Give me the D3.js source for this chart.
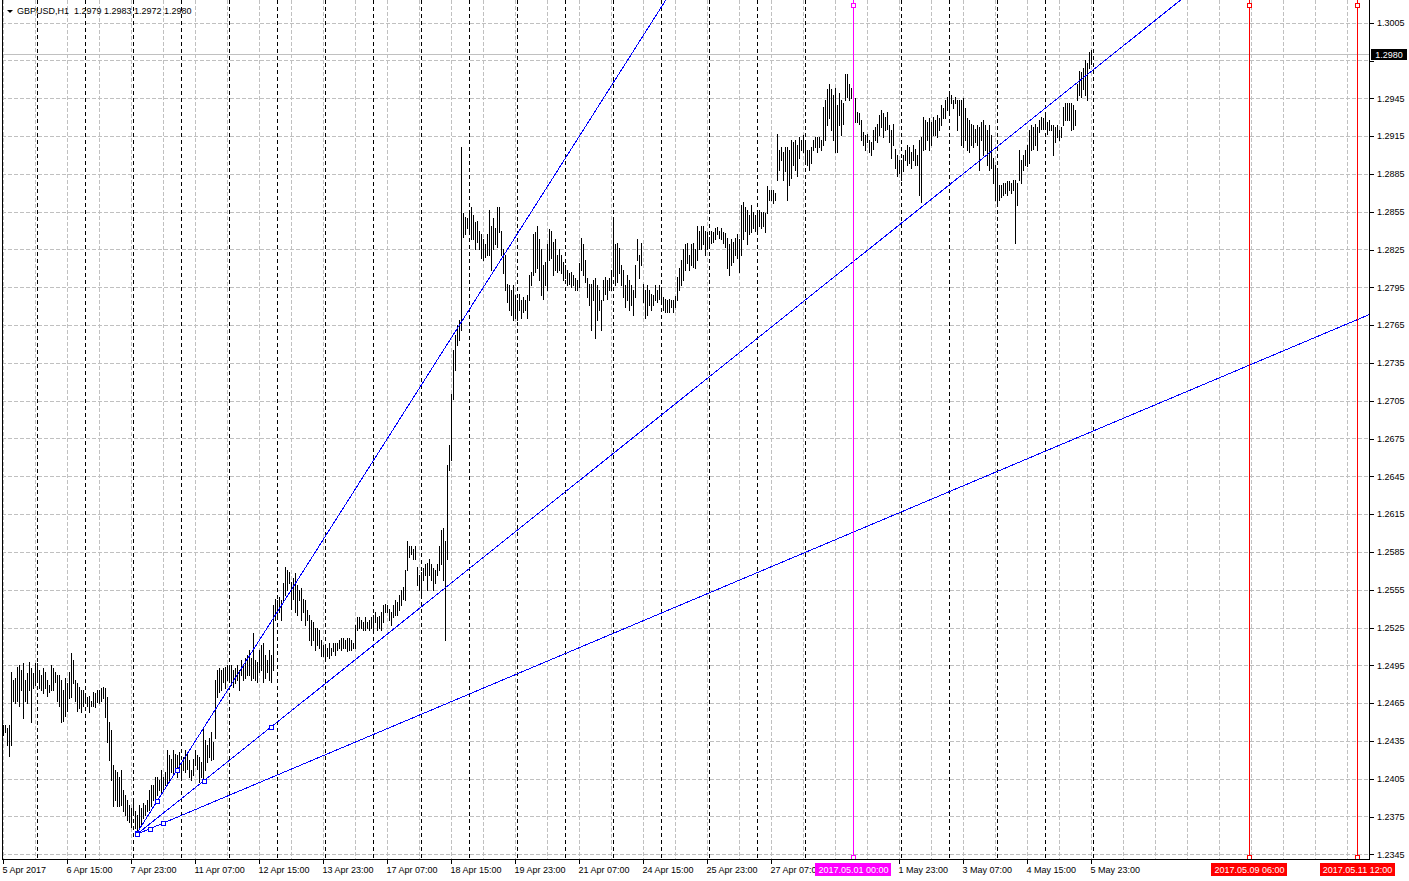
<!DOCTYPE html>
<html>
<head>
<meta charset="utf-8">
<script src="https://cdn.jsdelivr.net/npm/d3@7"></script>
<style>
html, body { margin: 0; padding: 0; background: #fff; }
svg { display: block; font-family: "Liberation Sans", Arial, sans-serif; }
</style>
</head>
<body>
<svg id="chart" width="1409" height="881"></svg>
<script>
/* global d3 */

// GBPUSD H1, one bar per hour from 5 Apr 07:00 to 5 May 23:00 (545 bars)
var symbol = "GBPUSD,H1";
var lastOHLC = [1.2979, 1.2983, 1.2972, 1.2980];

// bar highs / lows, split in four stretches
var highsA = [
  1.2448,1.2448,1.2445,1.2448,1.2490,1.2483,1.2485,1.2494,1.2495,1.2491,
  1.2497,1.2483,1.2489,1.2498,1.2493,1.2489,1.2497,1.2497,1.2491,1.2487,
  1.2493,1.2490,1.2483,1.2479,1.2495,1.2493,1.2490,1.2487,1.2487,1.2483,
  1.2475,1.2485,1.2481,1.2490,1.2505,1.2499,1.2483,1.2481,1.2478,1.2475,
  1.2475,1.2471,1.2470,1.2471,1.2467,1.2474,1.2473,1.2475,1.2475,1.2477,
  1.2478,1.2477,1.2470,1.2450,1.2444,1.2416,1.2412,1.2410,1.2406,1.2412,
  1.2396,1.2392,1.2388,1.2384,1.2382,1.2388,1.2379,1.2376,1.2384,1.2382,
  1.2386,1.2384,1.2388,1.2396,1.2400,1.2400,1.2406,1.2406,1.2404,1.2412,
  1.2406,1.2410,1.2428,1.2424,1.2421,1.2428,1.2425,1.2424,1.2426,1.2418,
  1.2422,1.2428,1.2426,1.2420,1.2412,1.2421,1.2428,1.2424,1.2422,1.2418,
  1.2445,1.2436,1.2432,1.2437,1.2442,1.2434,1.2483,1.2491,1.2493,1.2491,
  1.2493,1.2494,1.2495,1.2493,1.2495,1.2491,1.2493,1.2495,1.2491
];
var lowsA = [
  1.2440,1.2442,1.2432,1.2423,1.2432,1.2467,1.2465,1.2467,1.2463,1.2475,
  1.2453,1.2467,1.2465,1.2475,1.2450,1.2477,1.2479,1.2483,1.2477,1.2475,
  1.2473,1.2477,1.2471,1.2474,1.2475,1.2475,1.2482,1.2467,1.2463,1.2450,
  1.2451,1.2455,1.2459,1.2469,1.2470,1.2481,1.2467,1.2459,1.2461,1.2458,
  1.2463,1.2465,1.2463,1.2458,1.2463,1.2463,1.2462,1.2466,1.2465,1.2467,
  1.2469,1.2454,1.2434,1.2420,1.2404,1.2383,1.2388,1.2383,1.2383,1.2384,
  1.2379,1.2376,1.2372,1.2371,1.2367,1.2376,1.2366,1.2363,1.2366,1.2368,
  1.2374,1.2376,1.2379,1.2380,1.2383,1.2388,1.2388,1.2392,1.2396,1.2394,
  1.2396,1.2400,1.2400,1.2404,1.2410,1.2408,1.2412,1.2406,1.2410,1.2404,
  1.2412,1.2410,1.2413,1.2406,1.2404,1.2408,1.2416,1.2413,1.2402,1.2406,
  1.2402,1.2412,1.2418,1.2422,1.2420,1.2421,1.2437,1.2470,1.2474,1.2475,
  1.2482,1.2477,1.2483,1.2485,1.2479,1.2478,1.2481,1.2483,1.2475
];
var highsB = [
  1.2499,1.2495,1.2501,1.2503,1.2507,1.2501,1.2521,1.2499,1.2498,1.2507,
  1.2511,1.2513,1.2503,1.2499,1.2507,1.2503,1.2543,1.2548,1.2547,1.2549,
  1.2547,1.2560,1.2573,1.2571,1.2569,1.2561,1.2564,1.2568,1.2559,1.2555,
  1.2556,1.2548,1.2547,1.2539,1.2535,1.2531,1.2529,1.2525,1.2525,1.2523,
  1.2515,1.2511,1.2511,1.2509,1.2513,1.2509,1.2513,1.2513,1.2513,1.2515,
  1.2517,1.2517,1.2515,1.2517,1.2517,1.2515,1.2513,1.2527,1.2533,1.2533,
  1.2531,1.2529,1.2533,1.2529,1.2531,1.2533,1.2535,1.2537,1.2533,1.2534,
  1.2537,1.2543,1.2544,1.2543,1.2540,1.2537,1.2543,1.2547,1.2545,1.2551,
  1.2555,1.2557,1.2571,1.2594,1.2590,1.2590,1.2587,1.2590,1.2573,1.2567,
  1.2569,1.2572,1.2575,1.2576,1.2579,1.2575,1.2572,1.2571,1.2575,1.2590,
  1.2602,1.2604,1.2594,1.2654,1.2670,1.2710,1.2745,1.2757,1.2765,1.2769,1.2906
];
var lowsB = [
  1.2487,1.2483,1.2485,1.2487,1.2487,1.2483,1.2485,1.2483,1.2482,1.2490,
  1.2491,1.2482,1.2485,1.2490,1.2483,1.2482,1.2491,1.2531,1.2535,1.2537,
  1.2531,1.2547,1.2551,1.2555,1.2560,1.2540,1.2548,1.2537,1.2535,1.2547,
  1.2531,1.2537,1.2527,1.2531,1.2515,1.2511,1.2515,1.2507,1.2511,1.2509,
  1.2502,1.2502,1.2501,1.2502,1.2501,1.2503,1.2506,1.2503,1.2507,1.2509,
  1.2507,1.2509,1.2509,1.2506,1.2507,1.2507,1.2509,1.2509,1.2523,1.2525,
  1.2525,1.2523,1.2523,1.2525,1.2523,1.2525,1.2521,1.2529,1.2523,1.2525,
  1.2523,1.2529,1.2537,1.2537,1.2531,1.2527,1.2533,1.2535,1.2535,1.2539,
  1.2543,1.2548,1.2547,1.2571,1.2581,1.2583,1.2579,1.2579,1.2559,1.2555,
  1.2551,1.2563,1.2567,1.2555,1.2567,1.2563,1.2555,1.2560,1.2567,1.2571,
  1.2575,1.2563,1.2515,1.2579,1.2650,1.2658,1.2706,1.2729,1.2749,1.2753,1.2761
];
var highsC = [
  1.2854,1.2851,1.2850,1.2856,1.2859,1.2852,1.2847,1.2848,1.2840,1.2837,
  1.2833,1.2829,1.2837,1.2856,1.2844,1.2850,1.2842,1.2859,1.2859,1.2840,
  1.2825,1.2821,1.2798,1.2797,1.2793,1.2797,1.2789,1.2785,1.2790,1.2785,
  1.2787,1.2785,1.2789,1.2805,1.2807,1.2837,1.2839,1.2844,1.2833,1.2825,
  1.2813,1.2815,1.2829,1.2841,1.2840,1.2831,1.2833,1.2821,1.2825,1.2821,
  1.2815,1.2813,1.2809,1.2806,1.2807,1.2805,1.2802,1.2801,1.2814,1.2834,
  1.2829,1.2817,1.2802,1.2798,1.2798,1.2801,1.2802,1.2797,1.2793,1.2785,
  1.2801,1.2803,1.2801,1.2802,1.2809,1.2850,1.2829,1.2830,1.2826
];
var lowsC = [
  1.2835,1.2837,1.2842,1.2840,1.2833,1.2833,1.2825,1.2831,1.2825,1.2818,
  1.2817,1.2819,1.2821,1.2821,1.2809,1.2825,1.2829,1.2827,1.2839,1.2821,
  1.2806,1.2793,1.2783,1.2777,1.2773,1.2769,1.2771,1.2769,1.2777,1.2771,
  1.2775,1.2777,1.2771,1.2785,1.2797,1.2805,1.2807,1.2810,1.2801,1.2789,
  1.2786,1.2797,1.2793,1.2817,1.2818,1.2805,1.2809,1.2807,1.2809,1.2806,
  1.2801,1.2802,1.2797,1.2798,1.2795,1.2797,1.2793,1.2793,1.2795,1.2809,
  1.2805,1.2799,1.2787,1.2781,1.2761,1.2785,1.2755,1.2769,1.2777,1.2761,
  1.2785,1.2790,1.2786,1.2793,1.2793,1.2805,1.2797,1.2799,1.2806
];
var highsD = [
  1.2813,1.2809,1.2797,1.2805,1.2801,1.2797,1.2793,1.2813,1.2833,1.2821,
  1.2830,1.2798,1.2793,1.2797,1.2793,1.2790,1.2789,1.2797,1.2793,1.2797,
  1.2795,1.2787,1.2786,1.2785,1.2786,1.2785,1.2785,1.2788,1.2803,1.2810,
  1.2817,1.2825,1.2829,1.2830,1.2821,1.2829,1.2830,1.2825,1.2844,1.2840,
  1.2844,1.2844,1.2840,1.2839,1.2835,1.2840,1.2839,1.2842,1.2843,1.2840,
  1.2842,1.2839,1.2838,1.2834,1.2829,1.2833,1.2831,1.2834,1.2837,1.2833,
  1.2860,1.2863,1.2859,1.2856,1.2852,1.2860,1.2855,1.2852,1.2855,1.2856,
  1.2855,1.2855,1.2854,1.2875,1.2872,1.2872,1.2872,1.2870,1.2917,1.2904,
  1.2906,1.2902,1.2906,1.2906,1.2904,1.2912,1.2910,1.2912,1.2908,1.2914,
  1.2912,1.2916,1.2912,1.2904,1.2904,1.2906,1.2912,1.2914,1.2914,1.2914,
  1.2912,1.2938,1.2944,1.2952,1.2956,1.2952,1.2948,1.2953,1.2940,1.2949,
  1.2944,1.2941,1.2964,1.2964,1.2956,1.2953,1.2948,1.2945,1.2934,1.2933,
  1.2928,1.2918,1.2916,1.2917,1.2912,1.2910,1.2920,1.2922,1.2925,1.2932,
  1.2936,1.2933,1.2930,1.2934,1.2924,1.2920,1.2925,1.2905,1.2900,1.2896,
  1.2896,1.2900,1.2904,1.2908,1.2906,1.2902,1.2908,1.2905,1.2900,1.2912,
  1.2914,1.2930,1.2928,1.2926,1.2929,1.2926,1.2930,1.2928,1.2932,1.2929,
  1.2940,1.2937,1.2944,1.2946,1.2948,1.2948,1.2944,1.2946,1.2944,1.2944,
  1.2944,1.2945,1.2937,1.2929,1.2928,1.2925,1.2924,1.2921,1.2924,1.2922,
  1.2926,1.2928,1.2924,1.2920,1.2924,1.2916,1.2898,1.2892,1.2888,1.2876,
  1.2876,1.2878,1.2878,1.2879,1.2879,1.2878,1.2880,1.2880,1.2878,1.2904,
  1.2896,1.2900,1.2904,1.2908,1.2920,1.2924,1.2922,1.2925,1.2922,1.2928,
  1.2930,1.2929,1.2932,1.2926,1.2928,1.2924,1.2924,1.2922,1.2924,1.2920,
  1.2922,1.2938,1.2941,1.2941,1.2941,1.2941,1.2940,1.2936,1.2956,1.2967,
  1.2966,1.2969,1.2975,1.2973,1.2982,1.2983
];
var lowsD = [
  1.2797,1.2787,1.2779,1.2785,1.2777,1.2781,1.2773,1.2787,1.2817,1.2802,
  1.2813,1.2783,1.2771,1.2773,1.2781,1.2777,1.2781,1.2785,1.2783,1.2786,
  1.2785,1.2777,1.2775,1.2775,1.2775,1.2779,1.2775,1.2779,1.2785,1.2793,
  1.2797,1.2801,1.2809,1.2814,1.2809,1.2813,1.2811,1.2810,1.2817,1.2825,
  1.2825,1.2829,1.2821,1.2825,1.2829,1.2830,1.2831,1.2833,1.2837,1.2834,
  1.2833,1.2830,1.2827,1.2810,1.2805,1.2813,1.2815,1.2821,1.2818,1.2807,
  1.2821,1.2833,1.2840,1.2829,1.2837,1.2839,1.2842,1.2840,1.2839,1.2844,
  1.2842,1.2844,1.2839,1.2854,1.2864,1.2864,1.2862,1.2864,1.2880,1.2888,
  1.2896,1.2880,1.2887,1.2864,1.2876,1.2882,1.2892,1.2888,1.2883,1.2898,
  1.2904,1.2902,1.2896,1.2892,1.2888,1.2894,1.2904,1.2906,1.2902,1.2906,
  1.2904,1.2908,1.2912,1.2924,1.2929,1.2920,1.2912,1.2902,1.2902,1.2924,
  1.2916,1.2925,1.2944,1.2946,1.2944,1.2945,1.2932,1.2926,1.2926,1.2925,
  1.2912,1.2908,1.2904,1.2910,1.2902,1.2900,1.2905,1.2912,1.2910,1.2916,
  1.2922,1.2914,1.2920,1.2921,1.2910,1.2898,1.2908,1.2890,1.2883,1.2886,
  1.2880,1.2887,1.2896,1.2892,1.2894,1.2890,1.2896,1.2892,1.2892,1.2868,
  1.2863,1.2904,1.2905,1.2912,1.2904,1.2908,1.2916,1.2916,1.2914,1.2920,
  1.2924,1.2929,1.2929,1.2936,1.2934,1.2941,1.2937,1.2941,1.2920,1.2932,
  1.2908,1.2906,1.2912,1.2904,1.2902,1.2908,1.2906,1.2910,1.2908,1.2888,
  1.2912,1.2900,1.2904,1.2892,1.2888,1.2890,1.2878,1.2864,1.2862,1.2864,
  1.2867,1.2868,1.2870,1.2868,1.2872,1.2870,1.2872,1.2830,1.2860,1.2880,
  1.2878,1.2888,1.2892,1.2891,1.2894,1.2904,1.2905,1.2908,1.2904,1.2918,
  1.2921,1.2921,1.2924,1.2917,1.2920,1.2920,1.2900,1.2910,1.2914,1.2912,
  1.2914,1.2924,1.2928,1.2928,1.2928,1.2920,1.2921,1.2924,1.2944,1.2948,
  1.2946,1.2952,1.2948,1.2944,1.2969,1.2972
];

// time axis labels (one every 32 bars; the one under the 1 May tag is not shown)
var timeLabels = [
  "5 Apr 2017", "6 Apr 15:00", "7 Apr 23:00", "11 Apr 07:00", "12 Apr 15:00",
  "13 Apr 23:00", "17 Apr 07:00", "18 Apr 15:00", "19 Apr 23:00", "21 Apr 07:00",
  "24 Apr 15:00", "25 Apr 23:00", "27 Apr 07:00", "1 May 23:00",
  "3 May 07:00", "4 May 15:00", "5 May 23:00"
];
var timeLabelBars = [0, 32, 64, 96, 128, 160, 192, 224, 256, 288, 320, 352, 384,
  448, 480, 512, 544];
var priceTicks = [1.2345, 1.2375, 1.2405, 1.2435, 1.2465, 1.2495, 1.2525, 1.2555,
  1.2585, 1.2615, 1.2645, 1.2675, 1.2705, 1.2735, 1.2765, 1.2795, 1.2825, 1.2855,
  1.2885, 1.2915, 1.2945, 1.2975, 1.3005];

// trend lines: [bar, price] anchors
var trendStart = [[67, 1.2362], [67, 1.2361], [67, 1.2361]];
var trendEnd = [[87, 1.2412], [134, 1.2446], [80, 1.23697]];

// vertical lines: bar index (future bars counted in hours) and their time text
var vLineBars = [425, 623, 677];
var vLineTexts = ["2017.05.01 00:00", "2017.05.09 06:00", "2017.05.11 12:00"];
var vLineColors = ["#ff00ff", "#ff0000", "#ff0000"];

var highs = highsA.concat(highsB, highsC, highsD);
var lows = lowsA.concat(lowsB, lowsC, lowsD);
if (highs.length !== lows.length) throw new Error("highs " + highs.length + " lows " + lows.length);

var width = 1409, height = 881;
var plot = {left: 2, right: 1369, top: 0, bottom: 859};

var xScale = d3.scaleLinear().domain([0, highs.length - 1]).range([3, 1091]);
var yScale = d3.scaleLinear().domain([1.2345, 1.3005]).range([854.3, 22.7]);

var svg = d3.select("#chart");
var defs = svg.append("defs");

defs.append("clipPath").attr("id", "plotClip")
  .append("rect")
  .attr("x", plot.left).attr("y", plot.top)
  .attr("width", plot.right - plot.left).attr("height", plot.bottom - plot.top);

var gridG = svg.append("g").attr("clip-path", "url(#plotClip)").attr("shape-rendering", "crispEdges");

// horizontal grid
gridG.selectAll(".hgrid").data(priceTicks).enter().append("line")
  .attr("class", "hgrid")
  .attr("x1", plot.left).attr("x2", plot.right)
  .attr("y1", function(d) { return Math.round(yScale(d)) + 0.5; })
  .attr("y2", function(d) { return Math.round(yScale(d)) + 0.5; })
  .attr("stroke", "#c0c0c0").attr("stroke-dasharray", "4,2");

// vertical grid, every 16 bars
gridG.selectAll(".vgrid").data(d3.range(0, 700, 16)).enter().append("line")
  .attr("class", "vgrid")
  .attr("x1", function(d) { return Math.round(xScale(d)) + 0.5; })
  .attr("x2", function(d) { return Math.round(xScale(d)) + 0.5; })
  .attr("y1", plot.top).attr("y2", plot.bottom)
  .attr("stroke", "#c0c0c0").attr("stroke-dasharray", "4,2");

// day separators
gridG.selectAll(".sep").data(d3.range(17, highs.length + 1, 24)).enter().append("line")
  .attr("class", "sep")
  .attr("x1", function(d) { return Math.round(xScale(d)) + 0.5; })
  .attr("x2", function(d) { return Math.round(xScale(d)) + 0.5; })
  .attr("y1", plot.top).attr("y2", plot.bottom)
  .attr("stroke", "#000").attr("stroke-dasharray", "4,3");

// current price line
gridG.append("line")
  .attr("x1", plot.left).attr("x2", plot.right)
  .attr("y1", Math.round(yScale(lastOHLC[3])) + 0.5)
  .attr("y2", Math.round(yScale(lastOHLC[3])) + 0.5)
  .attr("stroke", "#c0c0c0");

// bars
var barG = svg.append("g").attr("clip-path", "url(#plotClip)").attr("shape-rendering", "crispEdges");
barG.selectAll("rect").data(highs).enter().append("rect")
  .attr("x", function(d, i) { return Math.round(xScale(i)); })
  .attr("y", function(d) { return Math.round(yScale(d)); })
  .attr("width", 1)
  .attr("height", function(d, i) {
    return Math.max(1, Math.round(yScale(lows[i])) - Math.round(yScale(d)) + 1);
  })
  .attr("fill", "#000");

// trend rays
var lineG = svg.append("g").attr("clip-path", "url(#plotClip)");
var farBar = 900;
trendStart.forEach(function(s, k) {
  var e = trendEnd[k];
  var slope = (e[1] - s[1]) / (e[0] - s[0]);
  lineG.append("line")
    .attr("x1", xScale(s[0])).attr("y1", yScale(s[1]))
    .attr("x2", xScale(farBar)).attr("y2", yScale(s[1] + slope * (farBar - s[0])))
    .attr("stroke", "#0000ff").attr("stroke-width", 1)
    .attr("shape-rendering", "crispEdges");
});

// vertical object lines
vLineBars.forEach(function(b, k) {
  var xv = Math.round(xScale(b)) + 0.5;
  svg.append("line")
    .attr("x1", xv).attr("x2", xv).attr("y1", plot.top).attr("y2", plot.bottom)
    .attr("stroke", vLineColors[k]).attr("shape-rendering", "crispEdges");
});

// selection squares
function square(cx, cy, color) {
  svg.append("rect")
    .attr("x", Math.round(cx) - 2 + 0.5).attr("y", Math.round(cy) - 2 + 0.5)
    .attr("width", 4).attr("height", 4)
    .attr("fill", "#fff").attr("stroke", color)
    .attr("shape-rendering", "crispEdges");
}
trendStart.forEach(function(s, k) {
  var e = trendEnd[k];
  square(xScale(s[0]), yScale(s[1]), "#0000ff");
  square(xScale((s[0] + e[0]) / 2), yScale((s[1] + e[1]) / 2), "#0000ff");
  square(xScale(e[0]), yScale(e[1]), "#0000ff");
});
vLineBars.forEach(function(b, k) {
  square(xScale(b), 5, vLineColors[k]);
  square(xScale(b), 857, vLineColors[k]);
});

// frame
var frame = svg.append("g").attr("shape-rendering", "crispEdges").attr("stroke", "#000");
frame.append("line").attr("x1", plot.left + 0.5).attr("x2", plot.left + 0.5).attr("y1", 0).attr("y2", plot.bottom + 1);
frame.append("line").attr("x1", plot.right + 0.5).attr("x2", plot.right + 0.5).attr("y1", 0).attr("y2", plot.bottom + 1);
frame.append("line").attr("x1", plot.left).attr("x2", plot.right + 1).attr("y1", plot.bottom + 0.5).attr("y2", plot.bottom + 0.5);

// current price tag geometry (used to clip the axis label it covers)
var py = Math.round(yScale(lastOHLC[3]));
var tagTop = py - 5, tagBottom = py + 6;

// price axis
var yAxis = svg.append("g")
  .attr("transform", "translate(" + (plot.right + 1) + ",0)")
  .call(d3.axisRight(yScale).tickValues(priceTicks).tickSize(4).tickFormat(d3.format(".4f")));
yAxis.select(".domain").remove();
yAxis.selectAll("line").attr("shape-rendering", "crispEdges");
yAxis.selectAll("text").attr("font-size", 9).attr("font-family", "Liberation Sans, Arial, sans-serif").attr("fill", "#000");
defs.append("clipPath").attr("id", "belowTag").append("rect")
  .attr("x", -10).attr("y", tagBottom).attr("width", 60).attr("height", 40);
yAxis.selectAll(".tick").filter(function(d) {
  var ty = yScale(d);
  return ty > tagTop - 6 && ty < tagBottom + 6;
}).select("text").attr("clip-path", "url(#belowTag)");

// time axis
var xAxis = svg.append("g")
  .attr("transform", "translate(0," + (plot.bottom + 1) + ")")
  .call(d3.axisBottom(xScale).tickValues(timeLabelBars).tickSize(4)
    .tickFormat(function(d, i) { return timeLabels[i]; }));
xAxis.select(".domain").remove();
xAxis.selectAll("line").attr("shape-rendering", "crispEdges");
xAxis.selectAll("text").attr("font-size", 9).attr("font-family", "Liberation Sans, Arial, sans-serif")
  .attr("text-anchor", "start").attr("dx", -1).attr("fill", "#000");

// vertical line time tags
var tagBoxes = [];
vLineBars.forEach(function(b, k) {
  var xv = Math.round(xScale(b)) + 0.5;
  var g = svg.append("g");
  var t = g.append("text")
    .attr("x", xv).attr("y", 873)
    .attr("text-anchor", "middle").attr("font-size", 9).attr("fill", "#fff")
    .text(vLineTexts[k]);
  var bb = t.node().getBBox();
  var rx = Math.round(bb.x - 3);
  tagBoxes.push(rx);
  g.insert("rect", "text")
    .attr("x", rx).attr("y", 863)
    .attr("width", Math.round(bb.width + 6)).attr("height", 13)
    .attr("fill", vLineColors[k]).attr("shape-rendering", "crispEdges");
});

// a time label running under a tag is cut at the tag's left edge
xAxis.selectAll(".tick").each(function(d) {
  var tx = xScale(d);
  var textNode = d3.select(this).select("text");
  var w = textNode.node().getComputedTextLength();
  tagBoxes.forEach(function(rx, k) {
    if (tx < rx && tx + w > rx) {
      var id = "cutTag" + k;
      defs.append("clipPath").attr("id", id).append("rect")
        .attr("x", -20).attr("y", -5).attr("width", rx - tx + 20).attr("height", 30);
      textNode.attr("clip-path", "url(#" + id + ")");
    }
  });
});

// current price tag
svg.append("rect").attr("x", 1371).attr("y", tagTop).attr("width", 36).attr("height", 11)
  .attr("fill", "#000").attr("shape-rendering", "crispEdges");
svg.append("text").attr("x", 1389).attr("y", py + 4).attr("text-anchor", "middle")
  .attr("font-size", 9).attr("fill", "#fff").text(d3.format(".4f")(lastOHLC[3]));

// header
svg.append("path").attr("d", "M7,10 L13,10 L10,13 Z").attr("fill", "#000");
svg.append("text").attr("x", 17).attr("y", 14).attr("font-size", 9).attr("fill", "#000")
  .attr("xml:space", "preserve").style("white-space", "pre")
  .text(symbol + "  " + lastOHLC.map(d3.format(".4f")).join(" "));
</script>
</body>
</html>
